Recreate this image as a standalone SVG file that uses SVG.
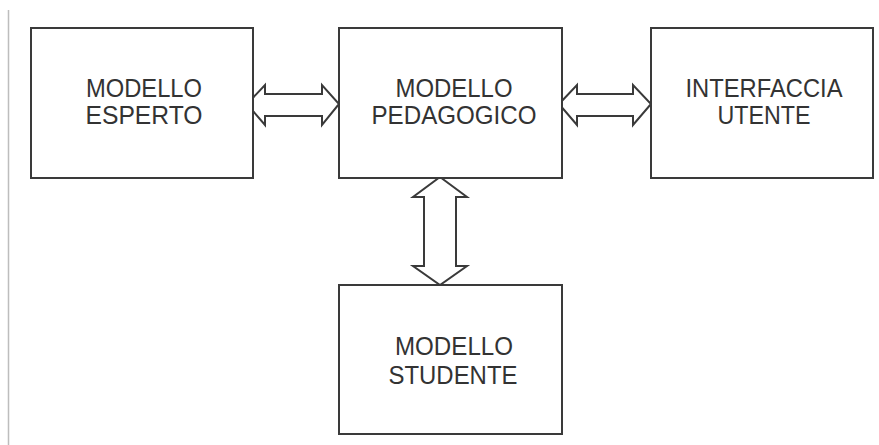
<svg xmlns="http://www.w3.org/2000/svg" width="879" height="445" viewBox="0 0 879 445">
<style>
.box{fill:#fff;stroke:#3a3a3a;stroke-width:2}
.arr{fill:#fff;stroke:#3a3a3a;stroke-width:2;stroke-linejoin:miter}
.t{font-family:"Liberation Sans",Arial,sans-serif;font-size:25px;fill:#333;text-anchor:middle}
</style>
<rect width="879" height="445" fill="#fff"/>
<line x1="8.5" y1="10" x2="8.5" y2="445" stroke="#bdbdbd" stroke-width="1.5"/>
<g id="connectors">
<path class="arr" d="M247,104 L265,85 L265,94 L322,94 L322,85 L339,104 L322,125 L322,116 L265,116 L265,125 Z"/>
<path class="arr" d="M559,104 L577,85 L577,94 L633,94 L633,85 L651,104 L633,125 L633,116 L577,116 L577,125 Z"/>
<path class="arr" d="M440,177 L467,197 L456,197 L456,266 L467,266 L440,285 L413,266 L424,266 L424,197 L413,197 Z"/>
</g>
<g id="modello-esperto">
<rect class="box" x="31" y="28" width="222" height="150"/>
<text class="t" x="144" y="97" textLength="116" lengthAdjust="spacingAndGlyphs">MODELLO</text>
<text class="t" x="144" y="124" textLength="117" lengthAdjust="spacingAndGlyphs">ESPERTO</text>
</g>
<g id="modello-pedagogico">
<rect class="box" x="339" y="28" width="223" height="150"/>
<text class="t" x="454" y="97" textLength="117" lengthAdjust="spacingAndGlyphs">MODELLO</text>
<text class="t" x="454" y="124" textLength="165" lengthAdjust="spacingAndGlyphs">PEDAGOGICO</text>
</g>
<g id="interfaccia-utente">
<rect class="box" x="651" y="28" width="222" height="150"/>
<text class="t" x="764" y="97" textLength="157" lengthAdjust="spacingAndGlyphs">INTERFACCIA</text>
<text class="t" x="764" y="124" textLength="93" lengthAdjust="spacingAndGlyphs">UTENTE</text>
</g>
<g id="modello-studente">
<rect class="box" x="339" y="285" width="223" height="149"/>
<text class="t" x="454" y="355" textLength="118" lengthAdjust="spacingAndGlyphs">MODELLO</text>
<text class="t" x="453" y="384" textLength="129" lengthAdjust="spacingAndGlyphs">STUDENTE</text>
</g>
</svg>
